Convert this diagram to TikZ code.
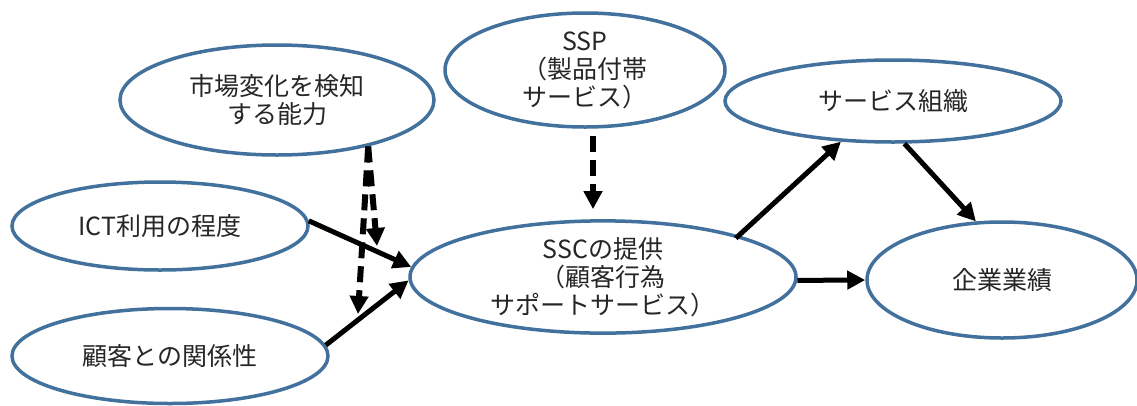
\documentclass[tikz,border=0pt]{standalone}
\usepackage{fontspec}
\setmainfont{Noto Sans CJK JP}
\usetikzlibrary{shapes.geometric,arrows.meta}
\definecolor{eblue}{RGB}{65,113,156}
\definecolor{txt}{RGB}{38,38,38}
\begin{document}
\begin{tikzpicture}[x=1pt,y=-1pt,
  ell/.style={ellipse,draw=eblue,line width=3.5pt,fill=white,inner sep=0pt,
    text=txt,font=\fontsize{25}{28}\selectfont,align=center},
  arr/.style={line width=5pt,-{Triangle[length=18pt,width=18pt]}},
  darr/.style={arr,line width=6pt,dash pattern=on 16pt off 8pt}]
\useasboundingbox[fill=white] (0,0) rectangle (1137,405);
\node[ell,minimum width=314pt,minimum height=110pt] (mkt) at (277,100) {市場変化を検知\\する能力};
\node[ell,minimum width=280pt,minimum height=114pt] (ssp) at (585,70) {SSP\\（製品付帯\\サービス）};
\node[ell,minimum width=336pt,minimum height=82pt] (org) at (893,101) {サービス組織};
\node[ell,minimum width=270pt,minimum height=116pt] (perf) at (1002,280) {企業業績};
\node[ell,minimum width=386pt,minimum height=100pt] (ssc) at (603,277) {SSCの提供\\（顧客行為\\サポートサービス）};
\node[ell,minimum width=296pt,minimum height=88pt] (ict) at (160,226) {ICT利用の程度};
\node[ell,minimum width=316pt,minimum height=95pt] (cust) at (170,356) {顧客との関係性};
\coordinate (m1) at (377,246);
\coordinate (m2) at (358,314);
\draw[arr] (ict.2) -- (ssc.177);
\draw[arr] (cust.4) -- (ssc.-179);
\draw[darr] (mkt.-27) -- (m1);
\draw[darr] (mkt.-27) -- (m2);
\draw[darr,shorten <=7pt,shorten >=10pt] ([xshift=8pt]ssp.south) -- ([xshift=-10pt]ssc.north);
\draw[arr,shorten <=-4pt] (ssc.17) -- (org.218);
\draw[arr] (org.-75) -- (perf.114);
\draw[arr] (ssc.-1) -- (perf.west);
\end{tikzpicture}
\end{document}
